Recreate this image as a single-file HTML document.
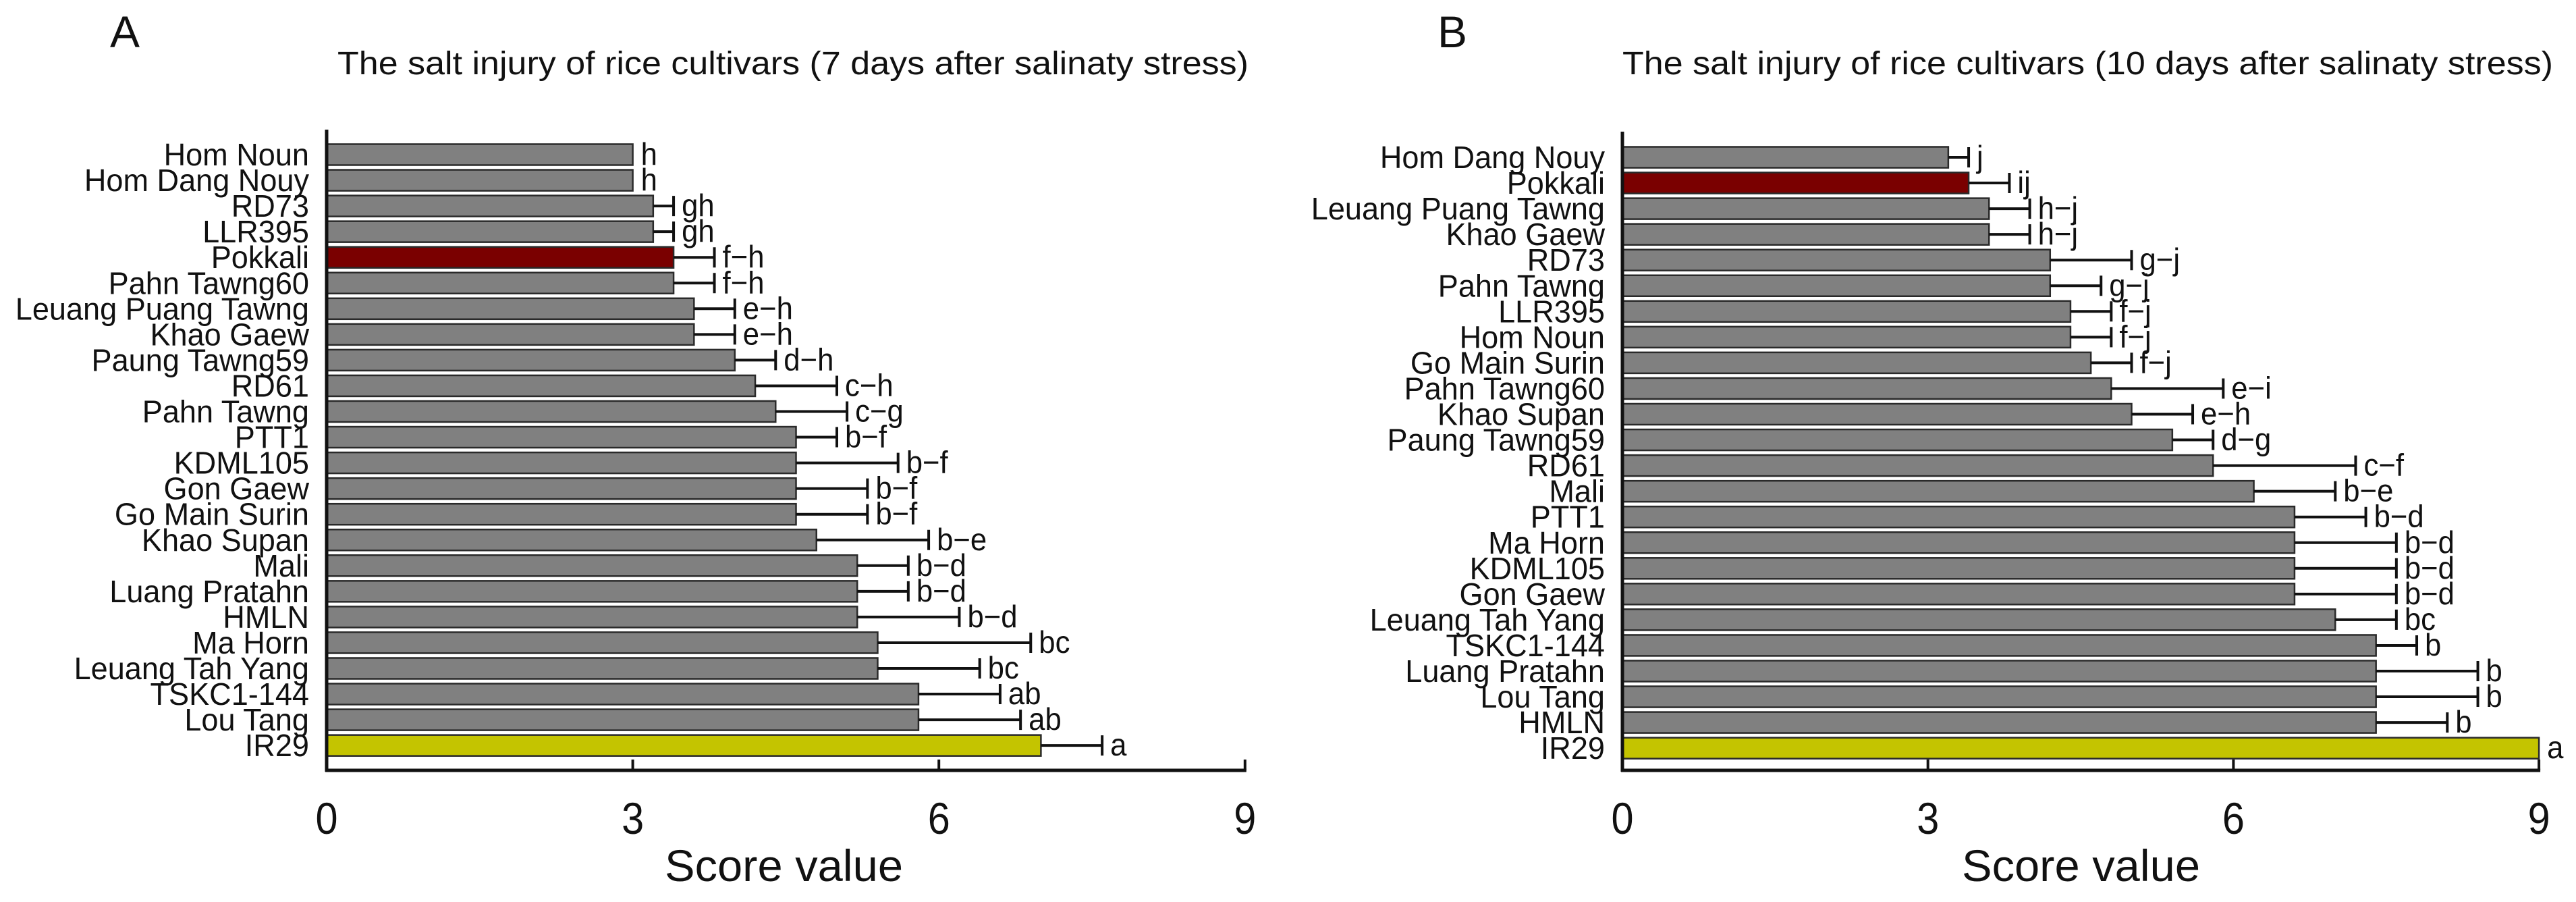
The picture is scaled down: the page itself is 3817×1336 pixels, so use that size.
<!DOCTYPE html>
<html><head><meta charset="utf-8"><style>
html,body{margin:0;padding:0;background:#fff}
svg{display:block}
text{font-family:"Liberation Sans",sans-serif;fill:#111}
</style></head><body>
<svg id="chart" width="3817" height="1336" viewBox="0 0 3817 1336" xmlns="http://www.w3.org/2000/svg"></svg>
<script>
// Panel A data (7 days)
const catsA = ["Hom Noun","Hom Dang Nouy","RD73","LLR395","Pokkali","Pahn Tawng60","Leuang Puang Tawng","Khao Gaew","Paung Tawng59","RD61","Pahn Tawng","PTT1","KDML105","Gon Gaew","Go Main Surin","Khao Supan","Mali","Luang Pratahn","HMLN","Ma Horn","Leuang Tah Yang","TSKC1-144","Lou Tang","IR29"];
const valsA = [3.0,3.0,3.2,3.2,3.4,3.4,3.6,3.6,4.0,4.2,4.4,4.6,4.6,4.6,4.6,4.8,5.2,5.2,5.2,5.4,5.4,5.8,5.8,7.0];
const errTopA = [3.0,3.0,3.4,3.4,3.8,3.8,4.0,4.0,4.4,5.0,5.1,5.0,5.6,5.3,5.3,5.9,5.7,5.7,6.2,6.9,6.4,6.6,6.8,7.6];
const lettersA = ["h","h","gh","gh","f−h","f−h","e−h","e−h","d−h","c−h","c−g","b−f","b−f","b−f","b−f","b−e","b−d","b−d","b−d","bc","bc","ab","ab","a"];
// Panel B data (10 days)
const catsB = ["Hom Dang Nouy","Pokkali","Leuang Puang Tawng","Khao Gaew","RD73","Pahn Tawng","LLR395","Hom Noun","Go Main Surin","Pahn Tawng60","Khao Supan","Paung Tawng59","RD61","Mali","PTT1","Ma Horn","KDML105","Gon Gaew","Leuang Tah Yang","TSKC1-144","Luang Pratahn","Lou Tang","HMLN","IR29"];
const valsB = [3.2,3.4,3.6,3.6,4.2,4.2,4.4,4.4,4.6,4.8,5.0,5.4,5.8,6.2,6.6,6.6,6.6,6.6,7.0,7.4,7.4,7.4,7.4,9.0];
const errTopB = [3.4,3.8,4.0,4.0,5.0,4.7,4.8,4.8,5.0,5.9,5.6,5.8,7.2,7.0,7.3,7.6,7.6,7.6,7.6,7.8,8.4,8.4,8.1,9.0];
const lettersB = ["j","ij","h−j","h−j","g−j","g−j","f−j","f−j","f−j","e−i","e−h","d−g","c−f","b−e","b−d","b−d","b−d","b−d","bc","b","b","b","b","a"];
const ticks = [0,3,6,9];
const tickLabels = ["0","3","6","9"];

const NS="http://www.w3.org/2000/svg";
const svg=document.getElementById('chart');
function mk(tag,attrs,parent){const e=document.createElementNS(NS,tag);for(const k in attrs)e.setAttribute(k,attrs[k]);(parent||svg).appendChild(e);return e;}

function panel(cfg){
  const g=mk('g',{});
  
  
  const x0=cfg.x0, unit=cfg.unit, axisY=cfg.axisY;
  const xs=v=>x0+v*unit;
  const ys=i=>cfg.y0+i*cfg.pitch;
  const bh=31;
  const pl=mk('text',{x:cfg.letterX,y:70,'font-size':66},g);pl.textContent=cfg.letter;
  
  
  const t=mk('text',{x:cfg.titleX,y:110,'font-size':48,textLength:cfg.titleW,lengthAdjust:'spacingAndGlyphs'},g);t.textContent=cfg.title;
  
  
  cfg.cats.forEach((c,i)=>{
    const cy=ys(i);
    let fill='#808080';
    if(c==='Pokkali')fill='#7a0000';
    if(c==='IR29')fill='#c4c400';
    const r=mk('rect',{x:x0,y:cy-bh/2,width:xs(cfg.vals[i])-x0,height:bh,fill:fill,stroke:'#2a2a2a','stroke-width':2.5},g);
    
    
    const ex=xs(cfg.err[i]), bx=xs(cfg.vals[i]);
    if(cfg.err[i]>cfg.vals[i]){
      const l=mk('path',{d:`M${bx},${cy} H${ex} M${ex},${cy-15} V${cy+15}`,stroke:'#111','stroke-width':4,fill:'none'},g);
      
      
    }
    const lt=mk('text',{x:0,y:0,'font-size':46,transform:`translate(${Math.max(ex,bx)+12},${cy+15}) scale(0.95,1)`},g);
    lt.textContent=cfg.letters[i];
    
    
    const lab=mk('text',{x:0,y:0,'font-size':46,'text-anchor':'end',transform:`translate(${x0-26},${cy+16}) scale(0.98,1)`},g);
    lab.textContent=c;
    
    
  });
  const ya=mk('line',{x1:x0,y1:cfg.axisTop,x2:x0,y2:axisY+2,stroke:'#111','stroke-width':5},g);
  
  
  const xa=mk('line',{x1:x0-2,y1:axisY,x2:xs(9)+2,y2:axisY,stroke:'#111','stroke-width':5},g);
  
  
  ticks.forEach((v,i)=>{
    if(v>0){const tk=mk('line',{x1:xs(v),y1:axisY-16,x2:xs(v),y2:axisY,stroke:'#111','stroke-width':4},g);
      
      }
    const tl=mk('text',{x:0,y:0,'font-size':66,'text-anchor':'middle',transform:`translate(${xs(v)},1235) scale(0.9,1)`},g);
    tl.textContent=tickLabels[i];
    
    
  });
  const xt=mk('text',{x:cfg.xtitleX,y:1305,'font-size':66,textLength:353,lengthAdjust:'spacingAndGlyphs'},g);
  xt.textContent='Score value';
  
  
}
panel({name:'panel-a',letter:'A',letterX:163,title:'The salt injury of rice cultivars (7 days after salinaty stress)',titleX:500,titleW:1350,
  x0:484,unit:151.2,axisY:1141,axisTop:192,y0:229,pitch:38.05,cats:catsA,vals:valsA,err:errTopA,letters:lettersA,xtitleX:985});
panel({name:'panel-b',letter:'B',letterX:2130,title:'The salt injury of rice cultivars (10 days after salinaty stress)',titleX:2404,titleW:1379,
  x0:2404,unit:150.9,axisY:1141,axisTop:195,y0:233,pitch:38.05,cats:catsB,vals:valsB,err:errTopB,letters:lettersB,xtitleX:2907});
</script>
</body></html>
